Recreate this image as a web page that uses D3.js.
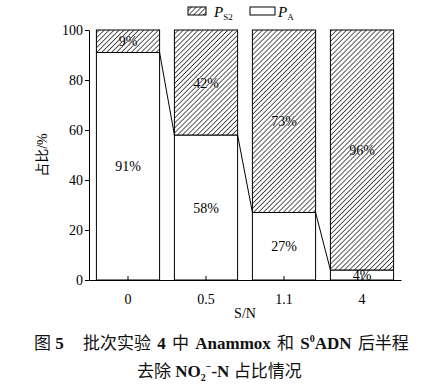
<!DOCTYPE html>
<html>
<head>
<meta charset="utf-8">
<script src="https://cdn.jsdelivr.net/npm/d3@7"></script>
<style>
  body { margin: 0; background: #fff; }
  svg { display: block; }
</style>
</head>
<body>
<script>
// data
const categories = ["0", "0.5", "1.1", "4"];
const pA = [91, 58, 27, 4];
const pS2 = [9, 42, 73, 96];
const yTicks = [0, 20, 40, 60, 80, 100];

const width = 439, height = 387;
const serif = "'Liberation Serif', 'Times New Roman', serif";
const cjk = "'Liberation Serif', 'Noto Sans CJK SC', serif";

const svg = d3.select("body").append("svg")
    .attr("width", width)
    .attr("height", height)
    .attr("font-family", serif);

// hatch pattern for P_S2
const hs = 3.5;
const defs = svg.append("defs");
const pat = defs.append("pattern")
    .attr("id", "hatch")
    .attr("patternUnits", "userSpaceOnUse")
    .attr("width", hs)
    .attr("height", hs)
    .attr("patternTransform", "rotate(45)");
pat.append("rect").attr("width", hs).attr("height", hs).attr("fill", "#fff");
pat.append("line")
    .attr("x1", 0).attr("y1", 0).attr("x2", 0).attr("y2", hs)
    .attr("stroke", "#000").attr("stroke-width", 1.3);

const x = d3.scaleBand()
    .domain(categories)
    .range([89, 401])
    .paddingInner(0.19)
    .paddingOuter(0.095);

const y = d3.scaleLinear()
    .domain([0, 100])
    .range([280, 30]);

// bars
const g = svg.append("g");
categories.forEach((c, i) => {
    const x0 = x(c), bw = x.bandwidth();
    // P_A (bottom)
    g.append("rect")
        .attr("x", x0).attr("y", y(pA[i]))
        .attr("width", bw).attr("height", y(0) - y(pA[i]))
        .attr("fill", "#fff").attr("stroke", "#000").attr("stroke-width", 1);
    // P_S2 (top)
    g.append("rect")
        .attr("x", x0).attr("y", y(100))
        .attr("width", bw).attr("height", y(pA[i]) - y(100))
        .attr("fill", "url(#hatch)").attr("stroke", "#000").attr("stroke-width", 1);
});

// connecting lines between P_A tops
for (let i = 0; i < categories.length - 1; i++) {
    g.append("line")
        .attr("x1", x(categories[i]) + x.bandwidth()).attr("y1", y(pA[i]))
        .attr("x2", x(categories[i + 1])).attr("y2", y(pA[i + 1]))
        .attr("stroke", "#000").attr("stroke-width", 1);
}

// value labels
const lab = svg.append("g")
    .attr("font-size", 14)
    .attr("text-anchor", "middle");
categories.forEach((c, i) => {
    const cx = x(c) + x.bandwidth() / 2;
    lab.append("text")
        .attr("x", cx).attr("y", y(pA[i] + pS2[i] / 2) + 5)
        .attr("paint-order", "stroke")
        .attr("stroke", "#fff").attr("stroke-width", 0.5)
        .text(pS2[i] + "%");
    lab.append("text")
        .attr("x", cx).attr("y", y(Math.max(pA[i] / 2, 1)) + 5)
        .text(pA[i] + "%");
});

// y axis
const yAxis = svg.append("g")
    .attr("transform", "translate(89,0)")
    .call(d3.axisLeft(y).tickValues(yTicks).tickSize(4).tickSizeOuter(0));
yAxis.select(".domain").attr("stroke", "#000");
yAxis.selectAll("text")
    .attr("font-family", serif)
    .attr("font-size", 14)
    .attr("fill", "#000")
    .attr("x", -6);

// x axis, ticks pointing up
const xAxis = svg.append("g")
    .attr("transform", "translate(0,280)")
    .call(d3.axisBottom(x).tickSize(-4).tickSizeOuter(0).tickPadding(14));
xAxis.select(".domain").attr("stroke", "#000");
xAxis.selectAll("text")
    .attr("font-family", serif)
    .attr("font-size", 14)
    .attr("fill", "#000");

// axis titles
svg.append("text")
    .attr("transform", "translate(47,155) rotate(-90)")
    .attr("text-anchor", "middle")
    .attr("font-family", cjk)
    .attr("font-size", 14)
    .text("占比/%");

svg.append("text")
    .attr("x", 245).attr("y", 318)
    .attr("text-anchor", "middle")
    .attr("font-size", 14)
    .text("S/N");

// legend
const leg = svg.append("g").attr("font-size", 15);
leg.append("rect")
    .attr("x", 188).attr("y", 7).attr("width", 18).attr("height", 8)
    .attr("fill", "url(#hatch)").attr("stroke", "#000");
const t1 = leg.append("text").attr("x", 214).attr("y", 17);
t1.append("tspan").attr("font-style", "italic").text("P");
t1.append("tspan").attr("font-size", 9).attr("dy", 3).text("S2");
leg.append("rect")
    .attr("x", 250).attr("y", 7).attr("width", 25).attr("height", 8)
    .attr("fill", "#fff").attr("stroke", "#000");
const t2 = leg.append("text").attr("x", 278).attr("y", 17);
t2.append("tspan").attr("font-style", "italic").text("P");
t2.append("tspan").attr("font-size", 9).attr("dy", 3).text("A");

// caption: Latin bold, Chinese regular
const cap = svg.append("g")
    .attr("font-family", cjk)
    .attr("font-size", 17)
    .attr("fill", "#111");
function seg(t, s, bold, extra = {}) {
    const ts = t.append("tspan").text(s)
        .attr("font-weight", bold ? "bold" : "normal");
    Object.entries(extra).forEach(([k, v]) => ts.attr(k, v));
    return ts;
}
const c0 = cap.append("text").attr("x", 34).attr("y", 349);
seg(c0, "图 ", false);
seg(c0, "5", true);
const l1 = cap.append("text").attr("x", 83).attr("y", 349)
    .attr("word-spacing", 2);
seg(l1, "批次实验 ", false);
seg(l1, "4", true);
seg(l1, " 中 ", false);
seg(l1, "Anammox", true);
seg(l1, " 和 ", false);
seg(l1, "S", true);
seg(l1, "0", true, { "font-size": 10, dy: -7 });
seg(l1, "ADN", true, { dy: 7 });
seg(l1, " 后半程", false);
const l2 = cap.append("text").attr("x", 137).attr("y", 377);
seg(l2, "去除 ", false);
seg(l2, "NO", true);
seg(l2, "2", true, { "font-size": 10, dy: 4 });
seg(l2, "−", true, { "font-size": 10, dy: -11 });
seg(l2, "-N", true, { dy: 7 });
seg(l2, " 占比情况", false);
</script>
</body>
</html>
